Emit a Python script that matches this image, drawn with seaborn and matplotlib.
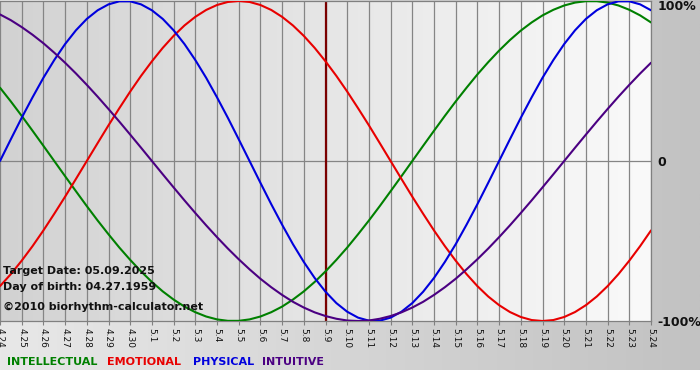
import numpy as np
import pandas as pd
import matplotlib
matplotlib.use("Agg")
import matplotlib.pyplot as plt
from matplotlib.colors import LinearSegmentedColormap
import seaborn as sns

sns.set_theme(style="white")
plt.rcParams['font.family'] = ['DejaVu Sans']

# ---- data ----
day_labels = ["4.24", "4.25", "4.26", "4.27", "4.28", "4.29", "4.30", "5.1", "5.2", "5.3",
              "5.4", "5.5", "5.6", "5.7", "5.8", "5.9", "5.10", "5.11", "5.12", "5.13",
              "5.14", "5.15", "5.16", "5.17", "5.18", "5.19", "5.20", "5.21", "5.22", "5.23", "5.24"]

# values read at half-day steps (day 0.0, 0.5, 1.0, ... 30.0)
intellectual = [0.458, 0.372, 0.282, 0.189, 0.095, 0.000,
                -0.095, -0.189, -0.282, -0.372, -0.458, -0.541, -0.618, -0.690, -0.756, -0.815,
                -0.866, -0.910, -0.945, -0.972, -0.990, -0.999, -0.999, -0.990, -0.972, -0.945,
                -0.910, -0.866, -0.815, -0.756, -0.690, -0.618, -0.541, -0.458, -0.372, -0.282,
                -0.189, -0.095, 0.000,
                0.095, 0.189, 0.282, 0.372, 0.458, 0.541, 0.618, 0.690, 0.756, 0.815,
                0.866, 0.910, 0.945, 0.972, 0.990, 0.999, 0.999, 0.990, 0.972, 0.945, 0.910, 0.866]
emotional = [-0.782, -0.707, -0.623, -0.532, -0.434, -0.330, -0.223, -0.112, 0.000,
             0.112, 0.223, 0.330, 0.434, 0.532, 0.623, 0.707, 0.782, 0.847, 0.901, 0.944, 0.975,
             0.994, 1.000, 0.994, 0.975, 0.944, 0.901, 0.847, 0.782, 0.707, 0.623, 0.532, 0.434,
             0.330, 0.223, 0.112, 0.000,
             -0.112, -0.223, -0.330, -0.434, -0.532, -0.623, -0.707, -0.782, -0.847, -0.901,
             -0.944, -0.975, -0.994, -1.000, -0.994, -0.975, -0.944, -0.901, -0.847, -0.782,
             -0.707, -0.623, -0.532, -0.434]
physical = [0.000, 0.136, 0.270, 0.398, 0.520, 0.631, 0.731, 0.817, 0.888, 0.942, 0.979, 0.998,
            0.998, 0.979, 0.942, 0.888, 0.817, 0.731, 0.631, 0.520, 0.398, 0.270, 0.136, 0.000,
            -0.136, -0.270, -0.398, -0.520, -0.631, -0.731, -0.817, -0.888, -0.942, -0.979, -0.998,
            -0.998, -0.979, -0.942, -0.888, -0.817, -0.731, -0.631, -0.520, -0.398, -0.270, -0.136,
            0.000, 0.136, 0.270, 0.398, 0.520, 0.631, 0.731, 0.817, 0.888, 0.942, 0.979, 0.998,
            0.998, 0.979, 0.942]
intuitive = [0.916, 0.880, 0.837, 0.789, 0.736, 0.677, 0.614, 0.547, 0.476, 0.402, 0.325, 0.246,
             0.165, 0.083, 0.000,
             -0.083, -0.165, -0.246, -0.325, -0.402, -0.476, -0.547, -0.614, -0.677, -0.736,
             -0.789, -0.837, -0.880, -0.916, -0.946, -0.969, -0.986, -0.997, -1.000, -0.997,
             -0.986, -0.969, -0.946, -0.916, -0.880, -0.837, -0.789, -0.736, -0.677, -0.614,
             -0.547, -0.476, -0.402, -0.325, -0.246, -0.165, -0.083, 0.000,
             0.083, 0.165, 0.246, 0.325, 0.402, 0.476, 0.547, 0.614]

target_index = 15
series_names = ["INTELLECTUAL", "EMOTIONAL", "PHYSICAL", "INTUITIVE"]
series_colors = ["#008000", "#e80000", "#0000dd", "#4b0082"]

days = list(range(len(day_labels)))
half_days = [i / 2 for i in range(len(physical))]
df = pd.concat([
    pd.DataFrame({"day": half_days, "value": vals, "cycle": name})
    for name, vals in zip(series_names, [intellectual, emotional, physical, intuitive])
], ignore_index=True)

# ---- figure ----
W, H = 700, 380
fig = plt.figure(figsize=(W / 100, H / 100), dpi=100)

# outer background
bg = fig.add_axes([0, 0, 1, 1])
bg.axis("off")
outer_cmap = LinearSegmentedColormap.from_list("outer", ["#e8e8e8", "#c2c2c2"])
bg.imshow(np.linspace(0, 1, 256)[None, :], cmap=outer_cmap, extent=(0, W, 370, 0), aspect="auto")
bg.add_patch(plt.Rectangle((0, 370), W, 10, color="white", lw=0))
bg.set_xlim(0, W)
bg.set_ylim(H, 0)

# plot axes
ax = fig.add_axes([0, (H - 321) / H, 651 / W, 320 / H])
inner_cmap = LinearSegmentedColormap.from_list("inner", ["#d2d2d2", "#e6e6e6", "#fafafa"])
ax.imshow(np.linspace(0, 1, 256)[None, :], cmap=inner_cmap, extent=(0, 30, -1, 1),
          aspect="auto", zorder=0)

for d in days:
    ax.axvline(d, color="#858585", lw=0.9, zorder=1)
ax.axhline(0, color="#858585", lw=0.9, zorder=1)
ax.axvline(target_index, color="#7a0000", lw=1.6, zorder=2)

sns.lineplot(data=df, x="day", y="value", hue="cycle", palette=series_colors,
             hue_order=series_names, linewidth=1.5, legend=False, ax=ax, zorder=3)

ax.set_xlim(0, 30)
ax.set_ylim(-1, 1)
ax.set_xlabel("")
ax.set_ylabel("")
ax.set_yticks([])
ax.set_xticks(days)
ax.set_xticklabels(day_labels, rotation=270, fontsize=6.5, color="#111111")
ax.tick_params(axis="x", direction="out", length=3, width=0.8, color="#808080", pad=2, bottom=True)
for s in ax.spines.values():
    s.set_color("#808080")
    s.set_linewidth(0.9)
ax.spines["left"].set_visible(False)

# y labels
fig.text(658 / W, 1 - 7 / H, "100%", fontsize=9, fontweight="bold", va="center", ha="left", color="#111111")
fig.text(657 / W, 1 - 162 / H, "0", fontsize=9, fontweight="bold", va="center", ha="left", color="#111111")
fig.text(657 / W, 1 - 322 / H, "-100%", fontsize=9, fontweight="bold", va="center", ha="left", color="#111111")

# info text
info_lines = [("Target Date: 05.09.2025", 271), ("Day of birth: 04.27.1959", 287),
              ("\u00a92010 biorhythm-calculator.net", 307)]
for txt, yy in info_lines:
    fig.text(3 / W, 1 - yy / H, txt, fontsize=8, fontweight="bold", va="center", ha="left", color="#111111")

# legend labels
legend_x = [7, 107, 193, 262]
for name, col, lx in zip(series_names, series_colors, legend_x):
    fig.text(lx / W, 1 - 362 / H, name, fontsize=8, fontweight="bold", va="center", ha="left", color=col)

fig.savefig("out.png", dpi=100)
